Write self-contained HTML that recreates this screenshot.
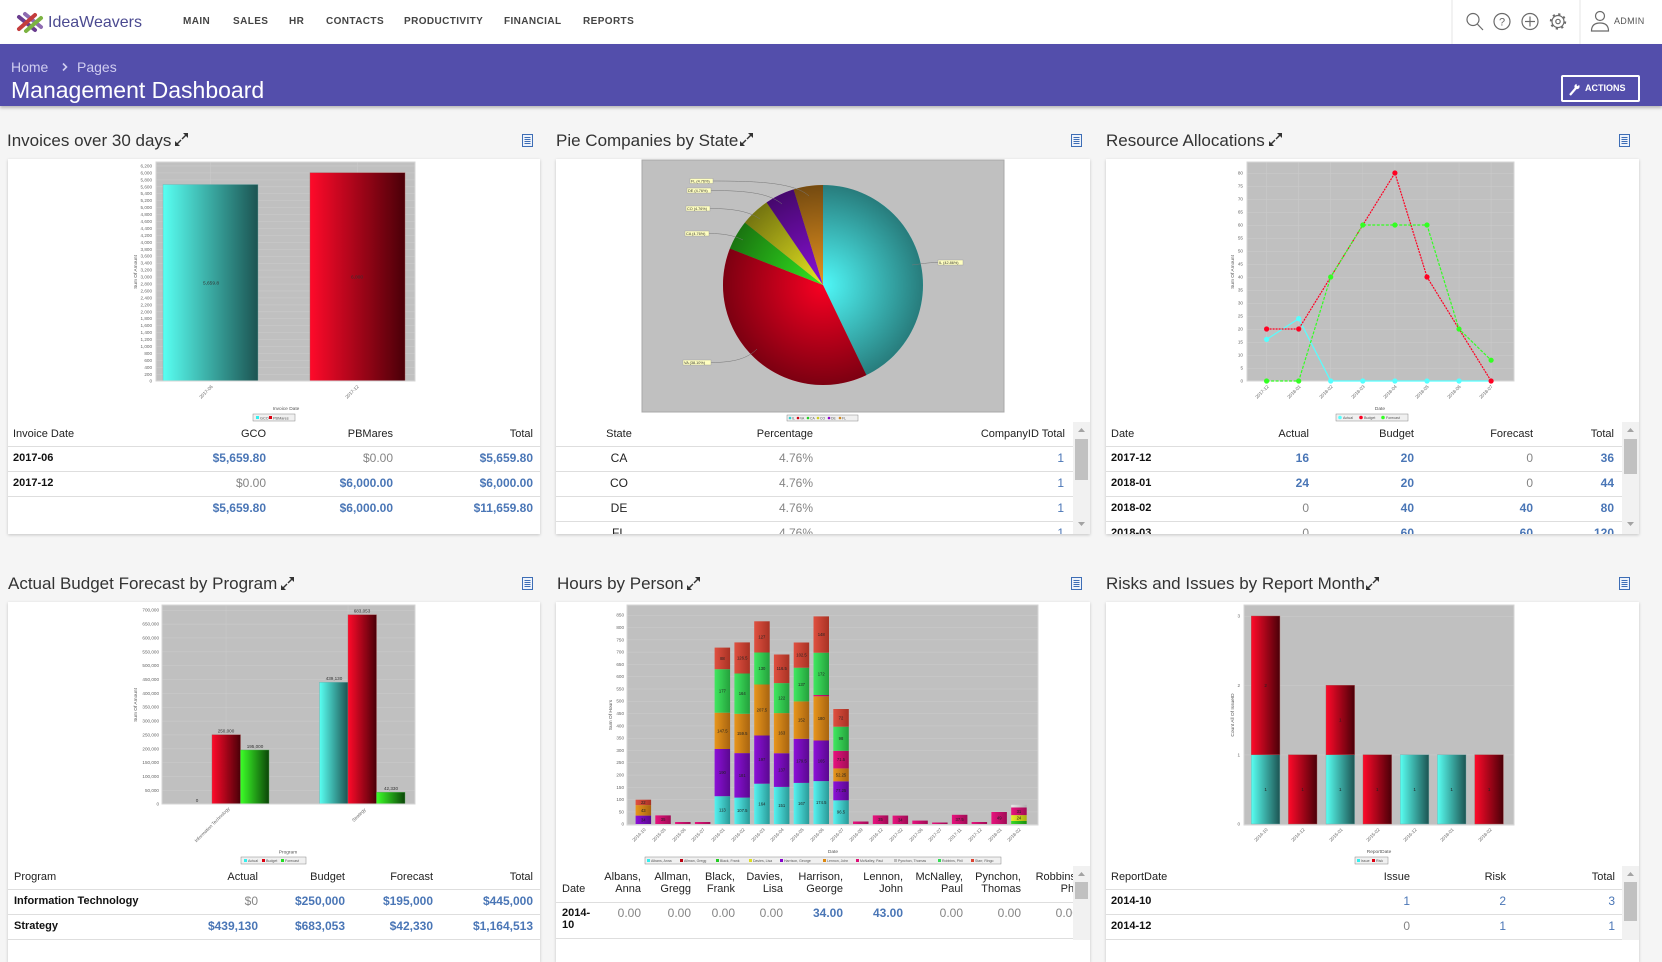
<!DOCTYPE html>
<html><head><meta charset="utf-8">
<style>
*{box-sizing:border-box;margin:0;padding:0}
body{width:1662px;height:940px;overflow:hidden;background:#f5f5f5;font-family:"Liberation Sans",Arial,sans-serif;position:relative}
.a{position:absolute}
.c{position:absolute;white-space:nowrap;line-height:14px}
.nv{position:absolute;top:15px;font-size:10px;font-weight:bold;color:#444;letter-spacing:.4px;line-height:13px;white-space:nowrap}
.ti{position:absolute;font-size:17px;line-height:20px;color:#333;white-space:nowrap}
.card{position:absolute;background:#fff;box-shadow:0 1px 3px rgba(0,0,0,.2)}
.h{font-size:11px;color:#222}
.l{font-size:11px;font-weight:bold;color:#111}
.v{font-size:12px;font-weight:bold;color:#4a76b6}
.vn{font-size:12px;color:#4a76b6}
.z{font-size:12px;color:#858585}
.n{font-size:12px;color:#222}
.R{text-align:right;width:160px}
.C{text-align:center;width:100px}
.ln{position:absolute;height:1px;background:#dedede}
.sb{position:absolute;background:#f1f1f1}
.th{position:absolute;background:#c1c1c1}
</style></head><body>

<!-- header -->
<div class="a" style="left:0;top:0;width:1662px;height:44px;background:#fff"></div>
<div class="a" style="left:48px;top:13px;font-size:16px;line-height:20px;color:#4b4a90">IdeaWeavers</div>
<div class="nv" style="left:183px">MAIN</div>
<div class="nv" style="left:233px">SALES</div>
<div class="nv" style="left:289px">HR</div>
<div class="nv" style="left:326px">CONTACTS</div>
<div class="nv" style="left:404px">PRODUCTIVITY</div>
<div class="nv" style="left:504px">FINANCIAL</div>
<div class="nv" style="left:583px">REPORTS</div>
<div class="a" style="left:1614px;top:15px;font-size:9px;line-height:13px;color:#555;letter-spacing:.3px">ADMIN</div>

<!-- purple band -->
<div class="a" style="left:0;top:44px;width:1662px;height:62px;background:#534eab;box-shadow:0 2px 3px rgba(0,0,0,.25)"></div>
<div class="a" style="left:11px;top:59px;font-size:14px;line-height:16px;color:#d0cdf0">Home</div>
<div class="a" style="left:77px;top:59px;font-size:14px;line-height:16px;color:#d0cdf0">Pages</div>
<div class="a" style="left:11px;top:76px;font-size:23px;line-height:28px;color:#fff">Management Dashboard</div>
<div class="a" style="left:1561px;top:75px;width:79px;height:27px;border:2px solid #fff;border-radius:2px"></div>
<div class="a" style="left:1585px;top:82px;font-size:9px;font-weight:bold;line-height:13px;color:#fff">ACTIONS</div>

<!-- titles -->
<div class="ti" style="left:7px;top:131px">Invoices over 30 days</div>
<div class="ti" style="left:556px;top:131px">Pie Companies by State</div>
<div class="ti" style="left:1106px;top:131px">Resource Allocations</div>
<div class="ti" style="left:8px;top:574px">Actual Budget Forecast by Program</div>
<div class="ti" style="left:557px;top:574px">Hours by Person</div>
<div class="ti" style="left:1106px;top:574px">Risks and Issues by Report Month</div>

<!-- cards -->
<div class="card" style="left:8px;top:159px;width:532px;height:375px"></div>
<div class="card" style="left:556px;top:159px;width:534px;height:375px"></div>
<div class="card" style="left:1106px;top:159px;width:533px;height:375px"></div>
<div class="card" style="left:8px;top:602px;width:532px;height:360px"></div>
<div class="card" style="left:556px;top:602px;width:534px;height:360px"></div>
<div class="card" style="left:1106px;top:602px;width:533px;height:360px"></div>

<!-- table 1 -->
<div class="c h" style="left:13px;top:427px">Invoice Date</div>
<div class="c h R" style="left:106px;top:427px">GCO</div>
<div class="c h R" style="left:233px;top:427px">PBMares</div>
<div class="c h R" style="left:373px;top:427px">Total</div>
<div class="ln" style="left:8px;top:446px;width:532px"></div>
<div class="c l" style="left:13px;top:451px">2017-06</div>
<div class="c v R" style="left:106px;top:451px">$5,659.80</div>
<div class="c z R" style="left:233px;top:451px">$0.00</div>
<div class="c v R" style="left:373px;top:451px">$5,659.80</div>
<div class="ln" style="left:8px;top:471px;width:532px"></div>
<div class="c l" style="left:13px;top:476px">2017-12</div>
<div class="c z R" style="left:106px;top:476px">$0.00</div>
<div class="c v R" style="left:233px;top:476px">$6,000.00</div>
<div class="c v R" style="left:373px;top:476px">$6,000.00</div>
<div class="ln" style="left:8px;top:496px;width:532px"></div>
<div class="c v R" style="left:106px;top:501px">$5,659.80</div>
<div class="c v R" style="left:233px;top:501px">$6,000.00</div>
<div class="c v R" style="left:373px;top:501px">$11,659.80</div>

<!-- tables 2 & 3 (clipped at card bottom) -->
<div class="a" style="left:0;top:0;width:1662px;height:534px;overflow:hidden">
<div class="c h C" style="left:569px;top:427px">State</div>
<div class="c h R" style="left:653px;top:427px">Percentage</div>
<div class="c h R" style="left:905px;top:427px">CompanyID Total</div>
<div class="ln" style="left:556px;top:446px;width:517px"></div>
<div class="ln" style="left:556px;top:471px;width:517px"></div>
<div class="ln" style="left:556px;top:496px;width:517px"></div>
<div class="ln" style="left:556px;top:521px;width:517px"></div>
<div class="c n C" style="left:569px;top:451px">CA</div>
<div class="c z R" style="left:653px;top:451px">4.76%</div>
<div class="c vn R" style="left:904px;top:451px">1</div>
<div class="c n C" style="left:569px;top:476px">CO</div>
<div class="c z R" style="left:653px;top:476px">4.76%</div>
<div class="c vn R" style="left:904px;top:476px">1</div>
<div class="c n C" style="left:569px;top:501px">DE</div>
<div class="c z R" style="left:653px;top:501px">4.76%</div>
<div class="c vn R" style="left:904px;top:501px">1</div>
<div class="c n C" style="left:569px;top:526px">FL</div>
<div class="c z R" style="left:653px;top:526px">4.76%</div>
<div class="c vn R" style="left:904px;top:526px">1</div>

<div class="c h" style="left:1111px;top:427px">Date</div>
<div class="c h R" style="left:1149px;top:427px">Actual</div>
<div class="c h R" style="left:1254px;top:427px">Budget</div>
<div class="c h R" style="left:1373px;top:427px">Forecast</div>
<div class="c h R" style="left:1454px;top:427px">Total</div>
<div class="ln" style="left:1106px;top:446px;width:517px"></div>
<div class="ln" style="left:1106px;top:471px;width:517px"></div>
<div class="ln" style="left:1106px;top:496px;width:517px"></div>
<div class="ln" style="left:1106px;top:521px;width:517px"></div>
<div class="c l" style="left:1111px;top:451px">2017-12</div>
<div class="c v R" style="left:1149px;top:451px">16</div>
<div class="c v R" style="left:1254px;top:451px">20</div>
<div class="c z R" style="left:1373px;top:451px">0</div>
<div class="c v R" style="left:1454px;top:451px">36</div>
<div class="c l" style="left:1111px;top:476px">2018-01</div>
<div class="c v R" style="left:1149px;top:476px">24</div>
<div class="c v R" style="left:1254px;top:476px">20</div>
<div class="c z R" style="left:1373px;top:476px">0</div>
<div class="c v R" style="left:1454px;top:476px">44</div>
<div class="c l" style="left:1111px;top:501px">2018-02</div>
<div class="c z R" style="left:1149px;top:501px">0</div>
<div class="c v R" style="left:1254px;top:501px">40</div>
<div class="c v R" style="left:1373px;top:501px">40</div>
<div class="c v R" style="left:1454px;top:501px">80</div>
<div class="c l" style="left:1111px;top:526px">2018-03</div>
<div class="c z R" style="left:1149px;top:526px">0</div>
<div class="c v R" style="left:1254px;top:526px">60</div>
<div class="c v R" style="left:1373px;top:526px">60</div>
<div class="c v R" style="left:1454px;top:526px">120</div>
</div>

<!-- table 4 -->
<div class="c h" style="left:14px;top:870px">Program</div>
<div class="c h R" style="left:98px;top:870px">Actual</div>
<div class="c h R" style="left:185px;top:870px">Budget</div>
<div class="c h R" style="left:273px;top:870px">Forecast</div>
<div class="c h R" style="left:373px;top:870px">Total</div>
<div class="ln" style="left:8px;top:889px;width:532px"></div>
<div class="c l" style="left:14px;top:894px">Information Technology</div>
<div class="c z R" style="left:98px;top:894px">$0</div>
<div class="c v R" style="left:185px;top:894px">$250,000</div>
<div class="c v R" style="left:273px;top:894px">$195,000</div>
<div class="c v R" style="left:373px;top:894px">$445,000</div>
<div class="ln" style="left:8px;top:914px;width:532px"></div>
<div class="c l" style="left:14px;top:919px">Strategy</div>
<div class="c v R" style="left:98px;top:919px">$439,130</div>
<div class="c v R" style="left:185px;top:919px">$683,053</div>
<div class="c v R" style="left:273px;top:919px">$42,330</div>
<div class="c v R" style="left:373px;top:919px">$1,164,513</div>
<div class="ln" style="left:8px;top:939px;width:532px"></div>

<!-- table 5 -->
<div class="c h" style="left:562px;top:882px">Date</div>
<div class="c h R" style="left:481px;top:870px">Albans,</div><div class="c h R" style="left:481px;top:882px">Anna</div>
<div class="c h R" style="left:531px;top:870px">Allman,</div><div class="c h R" style="left:531px;top:882px">Gregg</div>
<div class="c h R" style="left:575px;top:870px">Black,</div><div class="c h R" style="left:575px;top:882px">Frank</div>
<div class="c h R" style="left:623px;top:870px">Davies,</div><div class="c h R" style="left:623px;top:882px">Lisa</div>
<div class="c h R" style="left:683px;top:870px">Harrison,</div><div class="c h R" style="left:683px;top:882px">George</div>
<div class="c h R" style="left:743px;top:870px">Lennon,</div><div class="c h R" style="left:743px;top:882px">John</div>
<div class="c h R" style="left:803px;top:870px">McNalley,</div><div class="c h R" style="left:803px;top:882px">Paul</div>
<div class="c h R" style="left:861px;top:870px">Pynchon,</div><div class="c h R" style="left:861px;top:882px">Thomas</div>
<div class="c h R" style="left:919px;top:870px">Robbins,</div><div class="c h R" style="left:919px;top:882px">Phil</div>
<div class="ln" style="left:556px;top:902px;width:517px"></div>
<div class="c l" style="left:562px;top:906px">2014-</div>
<div class="c l" style="left:562px;top:918px">10</div>
<div class="c z R" style="left:481px;top:906px">0.00</div>
<div class="c z R" style="left:531px;top:906px">0.00</div>
<div class="c z R" style="left:575px;top:906px">0.00</div>
<div class="c z R" style="left:623px;top:906px">0.00</div>
<div class="c v R" style="left:683px;top:906px">34.00</div>
<div class="c v R" style="left:743px;top:906px">43.00</div>
<div class="c z R" style="left:803px;top:906px">0.00</div>
<div class="c z R" style="left:861px;top:906px">0.00</div>
<div class="c z R" style="left:919px;top:906px">0.00</div>
<div class="ln" style="left:556px;top:938px;width:517px"></div>

<!-- table 6 -->
<div class="c h" style="left:1111px;top:870px">ReportDate</div>
<div class="c h R" style="left:1250px;top:870px">Issue</div>
<div class="c h R" style="left:1346px;top:870px">Risk</div>
<div class="c h R" style="left:1455px;top:870px">Total</div>
<div class="ln" style="left:1106px;top:889px;width:517px"></div>
<div class="c l" style="left:1111px;top:894px">2014-10</div>
<div class="c vn R" style="left:1250px;top:894px">1</div>
<div class="c vn R" style="left:1346px;top:894px">2</div>
<div class="c vn R" style="left:1455px;top:894px">3</div>
<div class="ln" style="left:1106px;top:914px;width:517px"></div>
<div class="c l" style="left:1111px;top:919px">2014-12</div>
<div class="c z R" style="left:1250px;top:919px">0</div>
<div class="c vn R" style="left:1346px;top:919px">1</div>
<div class="c vn R" style="left:1455px;top:919px">1</div>
<div class="ln" style="left:1106px;top:939px;width:517px"></div>

<!-- scrollbars -->
<div class="sb" style="left:1073px;top:422px;width:17px;height:112px"></div>
<div class="th" style="left:1075px;top:439px;width:13px;height:41px"></div>
<div class="sb" style="left:1622px;top:422px;width:17px;height:112px"></div>
<div class="th" style="left:1624px;top:439px;width:13px;height:35px"></div>
<div class="sb" style="left:1073px;top:866px;width:17px;height:74px"></div>
<div class="th" style="left:1075px;top:882px;width:13px;height:17px"></div>
<div class="sb" style="left:1622px;top:866px;width:17px;height:74px"></div>
<div class="th" style="left:1624px;top:882px;width:13px;height:39px"></div>

<svg class="a" style="left:0;top:0" width="1662" height="940" viewBox="0 0 1662 940" font-family="Liberation Sans, Arial, sans-serif">
<defs>
<linearGradient id="gc"><stop offset="0" stop-color="#58fff2"/><stop offset="1" stop-color="#1c5452"/></linearGradient>
<linearGradient id="gr"><stop offset="0" stop-color="#ff0a2a"/><stop offset="1" stop-color="#4a0008"/></linearGradient>
<linearGradient id="gg"><stop offset="0" stop-color="#3cff28"/><stop offset="1" stop-color="#0b4608"/></linearGradient>
<linearGradient id="hc"><stop offset="0" stop-color="#55f2f0"/><stop offset="1" stop-color="#2a9a98"/></linearGradient>
<linearGradient id="hp"><stop offset="0" stop-color="#8c10d8"/><stop offset="1" stop-color="#5a0890"/></linearGradient>
<linearGradient id="ho"><stop offset="0" stop-color="#e8961c"/><stop offset="1" stop-color="#a86410"/></linearGradient>
<linearGradient id="hm"><stop offset="0" stop-color="#e8127e"/><stop offset="1" stop-color="#a00c55"/></linearGradient>
<linearGradient id="hg"><stop offset="0" stop-color="#40e860"/><stop offset="1" stop-color="#24a03c"/></linearGradient>
<linearGradient id="hr"><stop offset="0" stop-color="#e05040"/><stop offset="1" stop-color="#a83224"/></linearGradient>
<linearGradient id="hy"><stop offset="0" stop-color="#e8f028"/><stop offset="1" stop-color="#a8b010"/></linearGradient>
<linearGradient id="hb"><stop offset="0" stop-color="#38d828"/><stop offset="1" stop-color="#1c9010"/></linearGradient>
<linearGradient id="hx"><stop offset="0" stop-color="#e8e8e8"/><stop offset="1" stop-color="#b0b0b0"/></linearGradient>
<radialGradient id="pr" cx="823" cy="285" r="100" gradientUnits="userSpaceOnUse"><stop offset="0" stop-color="#000" stop-opacity="0"/><stop offset="1" stop-color="#000" stop-opacity=".5"/></radialGradient>
<pattern id="p1" patternUnits="userSpaceOnUse" x="0" y="381" width="20" height="6.9444"><rect width="20" height=".5" fill="#cccccc"/></pattern>
<pattern id="p3" patternUnits="userSpaceOnUse" x="0" y="381" width="20" height="13"><rect width="20" height=".5" fill="#cccccc"/></pattern>
<pattern id="p4" patternUnits="userSpaceOnUse" x="0" y="804" width="20" height="13.857"><rect width="20" height=".5" fill="#cccccc"/></pattern>
<pattern id="p5" patternUnits="userSpaceOnUse" x="0" y="824" width="20" height="12.295"><rect width="20" height=".5" fill="#cccccc"/></pattern>
<pattern id="p6" patternUnits="userSpaceOnUse" x="0" y="824" width="20" height="69.333"><rect width="20" height=".5" fill="#cccccc"/></pattern>
<g id="ex"><path d="M2 15 L2 10 L4 12 L7.5 8.5 L8.5 9.5 L5 13 L7 15 Z M15 2 L15 7 L13 5 L9.5 8.5 L8.5 7.5 L12 4 L10 2 Z" fill="#333"/></g>
<g id="li"><rect x=".5" y=".5" width="10" height="12" fill="#eef3fb" stroke="#3d6db5"/><path d="M2.5 3.5H8.5M2.5 5.5H8.5M2.5 7.5H8.5M2.5 9.5H8.5" stroke="#3d6db5" stroke-width="1"/></g>
</defs>

<!-- logo -->
<g stroke-linecap="round" stroke-width="4">
<line x1="19" y1="17" x2="35" y2="30" stroke="#6a3d8f"/>
<line x1="25" y1="14" x2="41" y2="27" stroke="#8e6bb0"/>
<line x1="19" y1="29" x2="35" y2="15" stroke="#c43d3d"/>
<line x1="26" y1="31" x2="41" y2="18" stroke="#7cb342"/>
</g>
<!-- nav icons -->
<line x1="1452" y1="0" x2="1452" y2="44" stroke="#e6e6e6"/>
<line x1="1580" y1="0" x2="1580" y2="44" stroke="#e6e6e6"/>
<g fill="none" stroke="#6a6a6a" stroke-width="1.2">
<circle cx="1473" cy="19.5" r="6"/><line x1="1477.3" y1="24" x2="1483" y2="30"/>
<circle cx="1502" cy="21.5" r="8"/>
<circle cx="1530" cy="21.5" r="8"/><line x1="1525" y1="21.5" x2="1535" y2="21.5"/><line x1="1530" y1="16.5" x2="1530" y2="26.5"/>
<circle cx="1558" cy="21.5" r="6"/><circle cx="1558" cy="21.5" r="2.2"/><circle cx="1558" cy="21.5" r="7.2" stroke-width="2" stroke-dasharray="2.2 3.45"/>
<circle cx="1600" cy="16" r="4.5"/><path d="M1591.5 31 Q1591.5 23 1600 23 Q1608.5 23 1608.5 31 Z"/>
</g>
<text x="1502" y="25.5" font-size="11" fill="#6a6a6a" text-anchor="middle">?</text>
<polyline points="63,63.5 66.5,67 63,70.5" fill="none" stroke="#d0cdf0" stroke-width="1.6"/>
<path d="M1570 95 L1576 88" stroke="#fff" stroke-width="2.2"/><circle cx="1577" cy="86.5" r="2.6" fill="#fff"/><rect x="1577" y="83" width="2" height="3" fill="#534eab" transform="rotate(45 1578 84.5)"/>

<!-- title icons -->
<use href="#ex" transform="translate(173,131)"/>
<use href="#ex" transform="translate(738,131)"/>
<use href="#ex" transform="translate(1267,131)"/>
<use href="#ex" transform="translate(279,575)"/>
<use href="#ex" transform="translate(685,575)"/>
<use href="#ex" transform="translate(1364,575)"/>
<use href="#li" transform="translate(522,134)"/>
<use href="#li" transform="translate(1071,134)"/>
<use href="#li" transform="translate(1619,134)"/>
<use href="#li" transform="translate(522,577)"/>
<use href="#li" transform="translate(1071,577)"/>
<use href="#li" transform="translate(1619,577)"/>

<!-- scrollbar arrows -->
<g fill="#a3a3a3">
<path d="M1078 432 L1085 432 L1081.5 428 Z"/><path d="M1078 522 L1085 522 L1081.5 526 Z"/>
<path d="M1627 432 L1634 432 L1630.5 428 Z"/><path d="M1627 522 L1634 522 L1630.5 526 Z"/>
<path d="M1078 876 L1085 876 L1081.5 872 Z"/>
<path d="M1627 876 L1634 876 L1630.5 872 Z"/>
</g>

<!-- ===== Chart 1 ===== -->
<rect x="156" y="162" width="259" height="219" fill="#c0c0c0"/>
<rect x="156" y="162" width="259" height="219" fill="url(#p1)"/>
<line x1="210.5" y1="162" x2="210.5" y2="381" stroke="#cbcbcb" stroke-width=".5"/>
<line x1="357.5" y1="162" x2="357.5" y2="381" stroke="#cbcbcb" stroke-width=".5"/>
<rect x="163" y="184.5" width="95" height="196.5" fill="url(#gc)" stroke="#7aa" stroke-width=".4"/>
<rect x="310" y="172.7" width="95" height="208.3" fill="url(#gr)" stroke="#a55" stroke-width=".4"/>
<rect x="156" y="162" width="259" height="219" fill="none" stroke="#d6d6d6"/>
<g font-size="4.6" fill="#666" text-anchor="end">
<text x="152" y="382.7">0</text><text x="152" y="375.8">200</text><text x="152" y="368.8">400</text><text x="152" y="361.9">600</text><text x="152" y="354.9">800</text><text x="152" y="348">1,000</text><text x="152" y="341">1,200</text><text x="152" y="334.1">1,400</text><text x="152" y="327.1">1,600</text><text x="152" y="320.2">1,800</text><text x="152" y="313.3">2,000</text><text x="152" y="306.3">2,200</text><text x="152" y="299.4">2,400</text><text x="152" y="292.4">2,600</text><text x="152" y="285.5">2,800</text><text x="152" y="278.5">3,000</text><text x="152" y="271.6">3,200</text><text x="152" y="264.6">3,400</text><text x="152" y="257.7">3,600</text><text x="152" y="250.8">3,800</text><text x="152" y="243.8">4,000</text><text x="152" y="236.9">4,200</text><text x="152" y="229.9">4,400</text><text x="152" y="223">4,600</text><text x="152" y="216">4,800</text><text x="152" y="209.1">5,000</text><text x="152" y="202.1">5,200</text><text x="152" y="195.2">5,400</text><text x="152" y="188.3">5,600</text><text x="152" y="181.3">5,800</text><text x="152" y="174.4">6,000</text><text x="152" y="167.4">6,200</text>
<text transform="translate(213,387) rotate(-45)">2017-06</text>
<text transform="translate(359,387) rotate(-45)">2017-12</text>
</g>
<g font-size="4.8" fill="#333" text-anchor="middle">
<text x="211" y="284.5">5,659.8</text><text x="357" y="278.5">6,000</text>
<text transform="translate(137,272) rotate(-90)" fill="#555">Sum Of Amount</text>
<text x="286" y="410" fill="#555">Invoice Date</text>
</g>
<rect x="253" y="414" width="42" height="7" fill="#f0f0f0" stroke="#888" stroke-width=".5"/>
<rect x="256" y="416" width="3" height="3" fill="#3ee"/><text x="260" y="419.3" font-size="3.8" fill="#555">GCO</text>
<rect x="269" y="416" width="3" height="3" fill="#d01"/><text x="273" y="419.3" font-size="3.8" fill="#555">PBMares</text>

<!-- ===== Chart 2 pie ===== -->
<rect x="642" y="160" width="362" height="252" fill="#c0c0c0" stroke="#a8a8a8"/>
<path d="M823 285 L823 185 A100 100 0 0 1 866.4 375.1 Z" fill="#4ff8f8"/>
<path d="M823 285 L866.4 375.1 A100 100 0 0 1 729.9 248.5 Z" fill="#f80022"/>
<path d="M823 285 L729.9 248.5 A100 100 0 0 1 744.9 222.6 Z" fill="#33e820"/>
<path d="M823 285 L744.9 222.6 A100 100 0 0 1 766.6 202.4 Z" fill="#e8e820"/>
<path d="M823 285 L766.6 202.4 A100 100 0 0 1 793.6 189.4 Z" fill="#8a10d8"/>
<path d="M823 285 L793.6 189.4 A100 100 0 0 1 823 185 Z" fill="#e89420"/>
<circle cx="823" cy="285" r="100" fill="url(#pr)"/>
<g fill="none" stroke="#777" stroke-width=".5">
<path d="M713 181 C760 181 795 183 809 196"/>
<path d="M711 190.5 C750 190.5 770 194 782 204"/>
<path d="M710 208.5 C735 208.5 750 212 760 219"/>
<path d="M709 233.5 C725 233.5 735 236 743 240"/>
<path d="M711 362.5 C735 362.5 748 358 757 349"/>
<path d="M938 262.5 C928 262.5 920 264 912 265"/>
</g>
<g fill="#ffffc0" stroke="#999" stroke-width=".4">
<rect x="690" y="178.5" width="23" height="5"/><rect x="687" y="188" width="24" height="5"/><rect x="686" y="206" width="24" height="5"/><rect x="685" y="231" width="24" height="5"/><rect x="683" y="360" width="28" height="5"/><rect x="938" y="260" width="25" height="5"/>
</g>
<g font-size="3.8" fill="#333">
<text x="691" y="182.4">FL (4.76%)</text><text x="688" y="191.9">DE (4.76%)</text><text x="687" y="209.9">CO (4.76%)</text><text x="686" y="234.9">CA (4.76%)</text><text x="684" y="363.9">VA (38.10%)</text><text x="939" y="263.9">IL (42.86%)</text>
</g>
<rect x="787" y="415" width="71" height="6" fill="#f0f0f0" stroke="#888" stroke-width=".5"/>
<g font-size="3.4" fill="#555">
<circle cx="790" cy="418" r="1.3" fill="#3cc"/><text x="792" y="419.3">IL</text>
<circle cx="798" cy="418" r="1.3" fill="#c01"/><text x="800" y="419.3">VA</text>
<circle cx="808" cy="418" r="1.3" fill="#2c2"/><text x="810" y="419.3">CA</text>
<circle cx="818" cy="418" r="1.3" fill="#cc2"/><text x="820" y="419.3">CO</text>
<circle cx="829" cy="418" r="1.3" fill="#80c"/><text x="831" y="419.3">DE</text>
<circle cx="840" cy="418" r="1.3" fill="#c82"/><text x="842" y="419.3">FL</text>
</g>

<!-- ===== Chart 3 lines ===== -->
<rect x="1247" y="162" width="267" height="219" fill="#c0c0c0"/>
<rect x="1247" y="162" width="267" height="219" fill="url(#p3)"/>
<g stroke="#cbcbcb" stroke-width=".5">
<line x1="1266.6" y1="162" x2="1266.6" y2="381"/><line x1="1298.7" y1="162" x2="1298.7" y2="381"/><line x1="1330.7" y1="162" x2="1330.7" y2="381"/><line x1="1362.8" y1="162" x2="1362.8" y2="381"/><line x1="1394.9" y1="162" x2="1394.9" y2="381"/><line x1="1427" y1="162" x2="1427" y2="381"/><line x1="1459" y1="162" x2="1459" y2="381"/><line x1="1491.1" y1="162" x2="1491.1" y2="381"/>
</g>
<rect x="1247" y="162" width="267" height="219" fill="none" stroke="#d6d6d6"/>
<polyline points="1266.6,339.4 1298.7,318.6 1330.7,381 1362.8,381 1394.9,381 1427,381 1459,381 1491.1,381" fill="none" stroke="#55ffff" stroke-width="1.2"/>
<polyline points="1266.6,329 1298.7,329 1330.7,277 1362.8,225 1394.9,173 1427,277 1459,329 1491.1,381" fill="none" stroke="#ff0022" stroke-width="1.2" stroke-dasharray="2 1"/>
<polyline points="1266.6,381 1298.7,381 1330.7,277 1362.8,225 1394.9,225 1427,225 1459,329 1491.1,360.2" fill="none" stroke="#33ff22" stroke-width="1.2" stroke-dasharray="3 1.5"/>
<g fill="#55ffff"><circle cx="1266.6" cy="339.4" r="2.6"/><circle cx="1298.7" cy="318.6" r="2.6"/><circle cx="1330.7" cy="381" r="2.6"/><circle cx="1362.8" cy="381" r="2.6"/><circle cx="1394.9" cy="381" r="2.6"/><circle cx="1427" cy="381" r="2.6"/><circle cx="1459" cy="381" r="2.6"/></g>
<g fill="#ff0022"><circle cx="1266.6" cy="329" r="2.6"/><circle cx="1298.7" cy="329" r="2.6"/><circle cx="1394.9" cy="173" r="2.6"/><circle cx="1427" cy="277" r="2.6"/><circle cx="1491.1" cy="381" r="2.6"/></g>
<g fill="#33ff22"><circle cx="1266.6" cy="381" r="2.6"/><circle cx="1298.7" cy="381" r="2.6"/><circle cx="1330.7" cy="277" r="2.6"/><circle cx="1362.8" cy="225" r="2.6"/><circle cx="1394.9" cy="225" r="2.6"/><circle cx="1427" cy="225" r="2.6"/><circle cx="1459" cy="329" r="2.6"/><circle cx="1491.1" cy="360.2" r="2.6"/></g>
<g font-size="4.6" fill="#666" text-anchor="end">
<text x="1243" y="382.7">0</text><text x="1243" y="369.7">5</text><text x="1243" y="356.7">10</text><text x="1243" y="343.7">15</text><text x="1243" y="330.7">20</text><text x="1243" y="317.7">25</text><text x="1243" y="304.7">30</text><text x="1243" y="291.7">35</text><text x="1243" y="278.7">40</text><text x="1243" y="265.7">45</text><text x="1243" y="252.7">50</text><text x="1243" y="239.7">55</text><text x="1243" y="226.7">60</text><text x="1243" y="213.7">65</text><text x="1243" y="200.7">70</text><text x="1243" y="187.7">75</text><text x="1243" y="174.7">80</text>
<text transform="translate(1269,387) rotate(-45)">2017-12</text><text transform="translate(1301,387) rotate(-45)">2018-01</text><text transform="translate(1333,387) rotate(-45)">2018-02</text><text transform="translate(1365,387) rotate(-45)">2018-03</text><text transform="translate(1397,387) rotate(-45)">2018-04</text><text transform="translate(1429,387) rotate(-45)">2018-05</text><text transform="translate(1461,387) rotate(-45)">2018-06</text><text transform="translate(1493,387) rotate(-45)">2018-07</text>
</g>
<g font-size="4.8" fill="#555" text-anchor="middle">
<text transform="translate(1234,272) rotate(-90)">Sum Of Amount</text>
<text x="1380" y="410">Date</text>
</g>
<rect x="1336" y="414" width="72" height="7" fill="#f0f0f0" stroke="#888" stroke-width=".5"/>
<g font-size="3.6" fill="#555">
<circle cx="1340" cy="417.5" r="1.8" fill="#5ff"/><text x="1343" y="418.8">Actual</text>
<circle cx="1361" cy="417.5" r="1.8" fill="#f02"/><text x="1364" y="418.8">Budget</text>
<circle cx="1383" cy="417.5" r="1.8" fill="#3f2"/><text x="1386" y="418.8">Forecast</text>
</g>

<!-- ===== Chart 4 ===== -->
<rect x="162" y="605" width="253" height="199" fill="#c0c0c0"/>
<rect x="162" y="605" width="253" height="199" fill="url(#p4)"/>
<line x1="226" y1="605" x2="226" y2="804" stroke="#cbcbcb" stroke-width=".5"/>
<line x1="348" y1="605" x2="348" y2="804" stroke="#cbcbcb" stroke-width=".5"/>
<rect x="212" y="734.7" width="28.5" height="69.3" fill="url(#gr)" stroke="#a55" stroke-width=".4"/>
<rect x="240.5" y="750" width="28.5" height="54" fill="url(#gg)" stroke="#5a5" stroke-width=".4"/>
<rect x="319.5" y="682.3" width="28.5" height="121.7" fill="url(#gc)" stroke="#7aa" stroke-width=".4"/>
<rect x="348" y="614.7" width="28.5" height="189.3" fill="url(#gr)" stroke="#a55" stroke-width=".4"/>
<rect x="376.5" y="792.3" width="28.5" height="11.7" fill="url(#gg)" stroke="#5a5" stroke-width=".4"/>
<rect x="162" y="605" width="253" height="199" fill="none" stroke="#d6d6d6"/>
<g font-size="4.6" fill="#666" text-anchor="end">
<text x="159" y="805.7">0</text><text x="159" y="791.8">50,000</text><text x="159" y="778">100,000</text><text x="159" y="764.1">150,000</text><text x="159" y="750.3">200,000</text><text x="159" y="736.4">250,000</text><text x="159" y="722.6">300,000</text><text x="159" y="708.7">350,000</text><text x="159" y="694.8">400,000</text><text x="159" y="681">450,000</text><text x="159" y="667.1">500,000</text><text x="159" y="653.3">550,000</text><text x="159" y="639.4">600,000</text><text x="159" y="625.6">650,000</text><text x="159" y="611.7">700,000</text>
<text transform="translate(230,809) rotate(-45)">Information Technology</text>
<text transform="translate(366,810) rotate(-45)">Strategy</text>
</g>
<g font-size="4.6" fill="#333" text-anchor="middle">
<text x="197" y="802">0</text><text x="226" y="732.5">250,000</text><text x="255" y="747.8">195,000</text><text x="334" y="680">439,130</text><text x="362" y="612.5">683,053</text><text x="391" y="790">42,330</text>
</g>
<g font-size="4.8" fill="#555" text-anchor="middle">
<text transform="translate(137,705) rotate(-90)">Sum Of Amount</text>
<text x="288" y="853.5">Program</text>
</g>
<rect x="241" y="857" width="65" height="7" fill="#f0f0f0" stroke="#888" stroke-width=".5"/>
<g font-size="3.6" fill="#555">
<rect x="244" y="859" width="3" height="3" fill="#3ee"/><text x="248" y="862.2">Actual</text>
<rect x="262" y="859" width="3" height="3" fill="#d01"/><text x="266" y="862.2">Budget</text>
<rect x="281" y="859" width="3" height="3" fill="#2d2"/><text x="285" y="862.2">Forecast</text>
</g>

<!-- ===== Chart 5 stacked ===== -->
<rect x="627" y="605" width="411" height="220" fill="#c0c0c0"/>
<rect x="627" y="605" width="411" height="220" fill="url(#p5)"/>
<rect x="635.6" y="815.6" width="15.5" height="8.4" fill="url(#hp)"/><rect x="635.6" y="805.1" width="15.5" height="10.5" fill="url(#ho)"/><rect x="635.6" y="799.7" width="15.5" height="5.4" fill="url(#hr)"/>
<rect x="655.3" y="815.4" width="15.5" height="8.6" fill="url(#hm)"/>
<rect x="675.1" y="822" width="15.5" height="2" fill="url(#hm)"/>
<rect x="694.9" y="822" width="15.5" height="2" fill="url(#hm)"/>
<rect x="714.6" y="796.2" width="15.5" height="27.8" fill="url(#hc)"/><rect x="714.6" y="749" width="15.5" height="47.2" fill="url(#hp)"/><rect x="714.6" y="712.7" width="15.5" height="36.3" fill="url(#ho)"/><rect x="714.6" y="669.2" width="15.5" height="43.5" fill="url(#hg)"/><rect x="714.6" y="647.6" width="15.5" height="21.6" fill="url(#hr)"/>
<rect x="734.4" y="797.6" width="15.5" height="26.4" fill="url(#hc)"/><rect x="734.4" y="753.1" width="15.5" height="44.5" fill="url(#hp)"/><rect x="734.4" y="713.8" width="15.5" height="39.3" fill="url(#ho)"/><rect x="734.4" y="673.5" width="15.5" height="40.3" fill="url(#hg)"/><rect x="734.4" y="642.4" width="15.5" height="31.1" fill="url(#hr)"/>
<rect x="754.2" y="783.7" width="15.5" height="40.3" fill="url(#hc)"/><rect x="754.2" y="735.5" width="15.5" height="48.2" fill="url(#hp)"/><rect x="754.2" y="684.5" width="15.5" height="51" fill="url(#ho)"/><rect x="754.2" y="652.5" width="15.5" height="32" fill="url(#hg)"/><rect x="754.2" y="621.3" width="15.5" height="31.2" fill="url(#hr)"/>
<rect x="773.9" y="786.9" width="15.5" height="37.1" fill="url(#hc)"/><rect x="773.9" y="753.2" width="15.5" height="33.7" fill="url(#hp)"/><rect x="773.9" y="713.1" width="15.5" height="40.1" fill="url(#ho)"/><rect x="773.9" y="683.1" width="15.5" height="30" fill="url(#hg)"/><rect x="773.9" y="654.5" width="15.5" height="28.6" fill="url(#hr)"/>
<rect x="793.7" y="782.9" width="15.5" height="41.1" fill="url(#hc)"/><rect x="793.7" y="738.8" width="15.5" height="44.1" fill="url(#hp)"/><rect x="793.7" y="701.4" width="15.5" height="37.4" fill="url(#ho)"/><rect x="793.7" y="667.7" width="15.5" height="33.7" fill="url(#hg)"/><rect x="793.7" y="642.5" width="15.5" height="25.2" fill="url(#hr)"/>
<rect x="813.5" y="781.1" width="15.5" height="42.9" fill="url(#hc)"/><rect x="813.5" y="740.5" width="15.5" height="40.6" fill="url(#hp)"/><rect x="813.5" y="696.3" width="15.5" height="44.2" fill="url(#ho)"/><rect x="813.5" y="695" width="15.5" height="1.3" fill="url(#hm)"/><rect x="813.5" y="652.7" width="15.5" height="42.3" fill="url(#hg)"/><rect x="813.5" y="616.4" width="15.5" height="36.3" fill="url(#hr)"/>
<rect x="833.3" y="800.3" width="15.5" height="23.7" fill="url(#hc)"/><rect x="833.3" y="781.3" width="15.5" height="19" fill="url(#hp)"/><rect x="833.3" y="768.4" width="15.5" height="12.9" fill="url(#ho)"/><rect x="833.3" y="750.8" width="15.5" height="17.6" fill="url(#hm)"/><rect x="833.3" y="726.7" width="15.5" height="24.1" fill="url(#hg)"/><rect x="833.3" y="709" width="15.5" height="17.7" fill="url(#hr)"/>
<rect x="853" y="821.5" width="15.5" height="2.5" fill="url(#hm)"/>
<rect x="872.8" y="815.4" width="15.5" height="8.6" fill="url(#hm)"/>
<rect x="892.6" y="815.6" width="15.5" height="8.4" fill="url(#hm)"/>
<rect x="912.3" y="820.6" width="15.5" height="3.4" fill="url(#hm)"/>
<rect x="932.1" y="822.5" width="15.5" height="1.5" fill="url(#hm)"/>
<rect x="951.9" y="814.8" width="15.5" height="9.2" fill="url(#hm)"/>
<rect x="971.6" y="822" width="15.5" height="2" fill="url(#hm)"/>
<rect x="991.4" y="812" width="15.5" height="12" fill="url(#hm)"/>
<rect x="1011.2" y="821" width="15.5" height="3" fill="url(#hb)"/><rect x="1011.2" y="815.1" width="15.5" height="5.9" fill="url(#hy)"/><rect x="1011.2" y="807.5" width="15.5" height="7.6" fill="url(#hm)"/><rect x="1011.2" y="804.8" width="15.5" height="2.7" fill="url(#hx)"/>
<rect x="627" y="605" width="411" height="220" fill="none" stroke="#d6d6d6"/>
<g font-size="4.2" fill="#222" text-anchor="middle">
<text x="643.3" y="821.3">34</text><text x="643.3" y="811.9">43</text><text x="643.3" y="803.9">22</text><text x="663.1" y="821.2">35</text>
<text x="722.4" y="811.5">113</text><text x="722.4" y="774">190</text><text x="722.4" y="732.3">147.5</text><text x="722.4" y="692.4">177</text><text x="722.4" y="659.9">88</text>
<text x="742.2" y="812.2">107.5</text><text x="742.2" y="776.8">181</text><text x="742.2" y="734.9">159.5</text><text x="742.2" y="695.1">164</text><text x="742.2" y="659.4">126.5</text>
<text x="761.9" y="805.3">164</text><text x="761.9" y="761">197</text><text x="761.9" y="711.4">207.5</text><text x="761.9" y="669.9">130</text><text x="761.9" y="638.3">127</text>
<text x="781.7" y="806.9">151</text><text x="781.7" y="771.5">137</text><text x="781.7" y="734.6">163</text><text x="781.7" y="699.6">122</text><text x="781.7" y="670.2">116.5</text>
<text x="801.5" y="805">167</text><text x="801.5" y="762.3">179.5</text><text x="801.5" y="721.5">152</text><text x="801.5" y="686">137</text><text x="801.5" y="656.5">102.5</text>
<text x="821.2" y="804">174.5</text><text x="821.2" y="762.3">165</text><text x="821.2" y="719.8">180</text><text x="821.2" y="675.3">172</text><text x="821.2" y="636">148</text>
<text x="841" y="813.6">96.5</text><text x="841" y="792.2">77.25</text><text x="841" y="776.3">52.25</text><text x="841" y="761">71.5</text><text x="841" y="740.2">98</text><text x="841" y="719.3">72</text>
<text x="880.5" y="821.2">35</text><text x="900.3" y="821.3">34</text><text x="959.6" y="820.9">37.5</text><text x="999.2" y="819.5">49</text><text x="1018.9" y="819.5">24</text><text x="1018.9" y="812.8">31</text>
</g>
<g font-size="4.6" fill="#666" text-anchor="end">
<text x="624" y="825.7">0</text><text x="624" y="813.4">50</text><text x="624" y="801.1">100</text><text x="624" y="788.8">150</text><text x="624" y="776.5">200</text><text x="624" y="764.2">250</text><text x="624" y="751.9">300</text><text x="624" y="739.6">350</text><text x="624" y="727.3">400</text><text x="624" y="715">450</text><text x="624" y="702.7">500</text><text x="624" y="690.5">550</text><text x="624" y="678.2">600</text><text x="624" y="665.9">650</text><text x="624" y="653.6">700</text><text x="624" y="641.3">750</text><text x="624" y="629">800</text><text x="624" y="616.7">850</text>
<text transform="translate(646,830) rotate(-45)">2014-10</text><text transform="translate(666,830) rotate(-45)">2015-05</text><text transform="translate(686,830) rotate(-45)">2015-06</text><text transform="translate(705,830) rotate(-45)">2015-07</text><text transform="translate(725,830) rotate(-45)">2016-01</text><text transform="translate(745,830) rotate(-45)">2016-02</text><text transform="translate(765,830) rotate(-45)">2016-03</text><text transform="translate(784,830) rotate(-45)">2016-04</text><text transform="translate(804,830) rotate(-45)">2016-05</text><text transform="translate(824,830) rotate(-45)">2016-06</text><text transform="translate(844,830) rotate(-45)">2016-07</text><text transform="translate(863,830) rotate(-45)">2016-09</text><text transform="translate(883,830) rotate(-45)">2016-12</text><text transform="translate(903,830) rotate(-45)">2017-02</text><text transform="translate(923,830) rotate(-45)">2017-06</text><text transform="translate(942,830) rotate(-45)">2017-07</text><text transform="translate(962,830) rotate(-45)">2017-11</text><text transform="translate(982,830) rotate(-45)">2017-12</text><text transform="translate(1002,830) rotate(-45)">2018-01</text><text transform="translate(1021,830) rotate(-45)">2018-02</text>
</g>
<g font-size="4.8" fill="#555" text-anchor="middle">
<text transform="translate(612,715) rotate(-90)">Sum Of Hours</text>
<text x="833" y="853">Date</text>
</g>
<rect x="645" y="857" width="356" height="7" fill="#f0f0f0" stroke="#888" stroke-width=".5"/>
<g font-size="3.5" fill="#555">
<rect x="647" y="859" width="3" height="3" fill="#3ee"/><text x="651" y="862.2">Albans, Anna</text>
<rect x="680" y="859" width="3" height="3" fill="#b01"/><text x="684" y="862.2">Allman, Gregg</text>
<rect x="716" y="859" width="3" height="3" fill="#2c2"/><text x="720" y="862.2">Black, Frank</text>
<rect x="749" y="859" width="3" height="3" fill="#dd2"/><text x="753" y="862.2">Davies, Lisa</text>
<rect x="780" y="859" width="3" height="3" fill="#80c"/><text x="784" y="862.2">Harrison, George</text>
<rect x="823" y="859" width="3" height="3" fill="#d81"/><text x="827" y="862.2">Lennon, John</text>
<rect x="856" y="859" width="3" height="3" fill="#d17"/><text x="860" y="862.2">McNalley, Paul</text>
<rect x="894" y="859" width="3" height="3" fill="#bbb"/><text x="898" y="862.2">Pynchon, Thomas</text>
<rect x="938" y="859" width="3" height="3" fill="#3d5"/><text x="942" y="862.2">Robbins, Phil</text>
<rect x="971" y="859" width="3" height="3" fill="#d43"/><text x="975" y="862.2">Starr, Ringo</text>
</g>

<!-- ===== Chart 6 ===== -->
<rect x="1244" y="605" width="270" height="220" fill="#c0c0c0"/>
<rect x="1244" y="605" width="270" height="220" fill="url(#p6)"/>
<rect x="1251.3" y="754.7" width="28.6" height="69.3" fill="url(#gc)" stroke="#7aa" stroke-width=".4"/><rect x="1251.3" y="616" width="28.6" height="138.7" fill="url(#gr)" stroke="#a55" stroke-width=".4"/>
<rect x="1288.4" y="754.7" width="28.6" height="69.3" fill="url(#gr)" stroke="#a55" stroke-width=".4"/>
<rect x="1326" y="754.7" width="28.6" height="69.3" fill="url(#gc)" stroke="#7aa" stroke-width=".4"/><rect x="1326" y="685.3" width="28.6" height="69.4" fill="url(#gr)" stroke="#a55" stroke-width=".4"/>
<rect x="1363" y="754.7" width="28.6" height="69.3" fill="url(#gr)" stroke="#a55" stroke-width=".4"/>
<rect x="1400.3" y="754.7" width="28.6" height="69.3" fill="url(#gc)" stroke="#7aa" stroke-width=".4"/>
<rect x="1437.4" y="754.7" width="28.6" height="69.3" fill="url(#gc)" stroke="#7aa" stroke-width=".4"/>
<rect x="1474.8" y="754.7" width="28.6" height="69.3" fill="url(#gr)" stroke="#a55" stroke-width=".4"/>
<rect x="1244" y="605" width="270" height="220" fill="none" stroke="#d6d6d6"/>
<g font-size="4.6" fill="#222" text-anchor="middle">
<text x="1265.6" y="791">1</text><text x="1265.6" y="687">2</text><text x="1302.7" y="791">1</text><text x="1340.3" y="791">1</text><text x="1340.3" y="721.6">1</text><text x="1377.3" y="791">1</text><text x="1414.6" y="791">1</text><text x="1451.7" y="791">1</text><text x="1489.1" y="791">1</text>
</g>
<g font-size="4.6" fill="#666" text-anchor="end">
<text x="1240" y="825.7">0</text><text x="1240" y="756.4">1</text><text x="1240" y="687">2</text><text x="1240" y="617.7">3</text>
<text transform="translate(1268,830) rotate(-45)">2014-10</text><text transform="translate(1305,830) rotate(-45)">2014-12</text><text transform="translate(1343,830) rotate(-45)">2015-01</text><text transform="translate(1380,830) rotate(-45)">2015-02</text><text transform="translate(1417,830) rotate(-45)">2016-12</text><text transform="translate(1454,830) rotate(-45)">2018-01</text><text transform="translate(1492,830) rotate(-45)">2018-02</text>
</g>
<g font-size="4.8" fill="#555" text-anchor="middle">
<text transform="translate(1234,715) rotate(-90)">Count All Of IssueID</text>
<text x="1379" y="853">ReportDate</text>
</g>
<rect x="1355" y="857" width="33" height="7" fill="#f0f0f0" stroke="#888" stroke-width=".5"/>
<g font-size="3.6" fill="#555">
<rect x="1357" y="859" width="3" height="3" fill="#3ee"/><text x="1361" y="862.2">Issue</text>
<rect x="1372" y="859" width="3" height="3" fill="#d01"/><text x="1376" y="862.2">Risk</text>
</g>
</svg>
</body></html>
